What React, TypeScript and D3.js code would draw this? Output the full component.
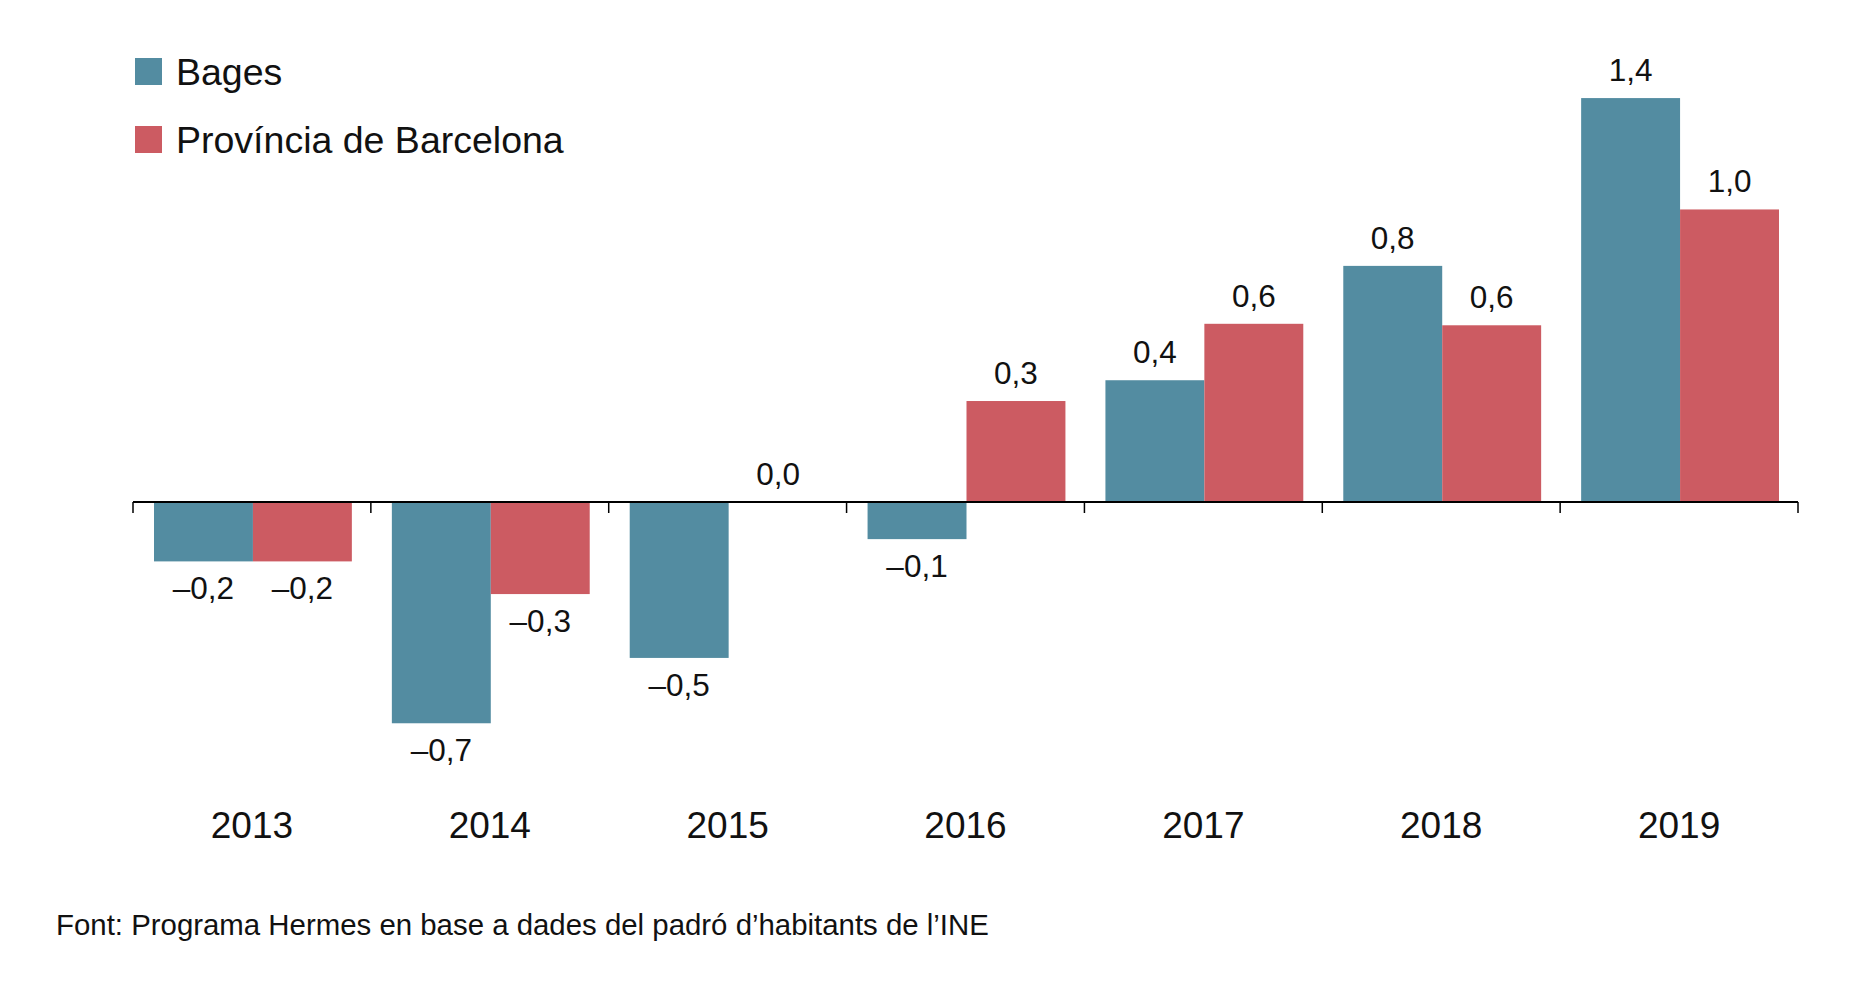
import React, { useEffect, useRef } from 'react';
import * as d3 from 'd3';

const years = ['2013', '2014', '2015', '2016', '2017', '2018', '2019'];
const seriesNames = ['Bages', 'Província de Barcelona'];
const bages = [-0.2, -0.745, -0.525, -0.125, 0.41, 0.795, 1.36];
const barcelona = [-0.2, -0.31, 0.0, 0.34, 0.6, 0.595, 0.985];
const colors = ['#538ca1', '#cc5b62'];
const source = 'Font: Programa Hermes en base a dades del padró d’habitants de l’INE';

const fmt = (v: number) => v.toFixed(1).replace('.', ',').replace('-', '–');

const App: React.FC = () => {
  const svgRef = useRef<SVGSVGElement>(null);

  useEffect(() => {
    if (!svgRef.current) return;
    const svg = d3.select(svgRef.current);
    svg.selectAll('*').remove();

    const width = 1854;
    const height = 998;
    const font = '"Liberation Sans", Arial, Helvetica, sans-serif';
    svg.attr('width', width).attr('height', height);

    // category bands, one per year
    const x0 = d3.scaleBand<string>().domain(years).range([133, 1798]);
    const x1 = d3
      .scaleBand<string>()
      .domain(seriesNames)
      .range([21, x0.bandwidth() - 19]);

    // zero line sits at 502px, ~297px per unit
    const y = d3.scaleLinear().domain([0, 1]).range([502, 205]);

    const rows = years.map((year, i) => ({
      year,
      values: [
        { key: seriesNames[0], value: bages[i], color: colors[0] },
        { key: seriesNames[1], value: barcelona[i], color: colors[1] },
      ],
    }));

    const groups = svg
      .selectAll('g.year')
      .data(rows)
      .enter()
      .append('g')
      .attr('class', 'year')
      .attr('transform', d => `translate(${x0(d.year)},0)`);

    // bars
    groups
      .selectAll('rect')
      .data(d => d.values)
      .enter()
      .append('rect')
      .attr('x', d => x1(d.key) ?? 0)
      .attr('y', d => y(Math.max(0, d.value)))
      .attr('width', x1.bandwidth())
      .attr('height', d => Math.abs(y(d.value) - y(0)))
      .attr('fill', d => d.color);

    // value labels
    groups
      .selectAll('text.value')
      .data(d => d.values)
      .enter()
      .append('text')
      .attr('class', 'value')
      .attr('x', d => (x1(d.key) ?? 0) + x1.bandwidth() / 2)
      .attr('y', d => (d.value >= 0 ? y(d.value) - 17 : y(d.value) + 38))
      .attr('text-anchor', 'middle')
      .style('font-family', font)
      .style('font-size', '31.5px')
      .style('fill', '#111')
      .text(d => fmt(d.value));

    // x axis line and boundary ticks
    const y0 = y(0);
    svg
      .append('line')
      .attr('x1', x0.range()[0])
      .attr('x2', x0.range()[1])
      .attr('y1', y0)
      .attr('y2', y0)
      .attr('stroke', '#000')
      .attr('stroke-width', 2);

    const tickXs = [...years.map(yr => x0(yr) ?? 0), x0.range()[1]];
    svg
      .selectAll('line.tick')
      .data(tickXs)
      .enter()
      .append('line')
      .attr('class', 'tick')
      .attr('x1', d => d)
      .attr('x2', d => d)
      .attr('y1', y0)
      .attr('y2', y0 + 11)
      .attr('stroke', '#000')
      .attr('stroke-width', 1.5);

    // year labels
    svg
      .selectAll('text.yearLabel')
      .data(years)
      .enter()
      .append('text')
      .attr('class', 'yearLabel')
      .attr('x', d => (x0(d) ?? 0) + x0.bandwidth() / 2)
      .attr('y', 838)
      .attr('text-anchor', 'middle')
      .style('font-family', font)
      .style('font-size', '37px')
      .style('fill', '#111')
      .text(d => d);

    // legend
    const legend = svg.append('g').attr('transform', 'translate(135, 58)');
    seriesNames.forEach((name, i) => {
      legend
        .append('rect')
        .attr('x', 0)
        .attr('y', i * 68)
        .attr('width', 27)
        .attr('height', 27)
        .attr('fill', colors[i]);
      legend
        .append('text')
        .attr('x', 41)
        .attr('y', i * 68 + 27)
        .style('font-family', font)
        .style('font-size', '37.5px')
        .style('fill', '#111')
        .text(name);
    });

    // source
    svg
      .append('text')
      .attr('x', 56)
      .attr('y', 935)
      .style('font-family', font)
      .style('font-size', '29.4px')
      .style('fill', '#111')
      .text(source);
  }, []);

  return (
    <svg
      ref={svgRef}
      style={{ position: 'absolute', left: 0, top: 0, display: 'block', background: '#fff' }}
    ></svg>
  );
};

export default App;
